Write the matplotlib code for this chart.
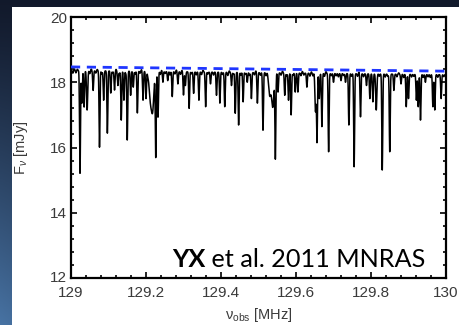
import numpy as np
import matplotlib
matplotlib.use("Agg")
import matplotlib.pyplot as plt
import matplotlib.transforms as mtransforms
from matplotlib.patches import Rectangle

plt.rcParams["mathtext.fontset"] = "custom"
plt.rcParams["mathtext.rm"] = "Liberation Sans"
plt.rcParams["mathtext.it"] = "Liberation Sans:italic"

# Observed frequency range [MHz] and flux range [mJy]
freq_range = [129.0, 130.0]
flux_range = [12.0, 20.0]
x_ticks = [129.0, 129.2, 129.4, 129.6, 129.8, 130.0]
x_tick_labels = ["129", "129.2", "129.4", "129.6", "129.8", "130"]
y_ticks = [12, 14, 16, 18, 20]

# Intrinsic continuum (dashed) at both band edges [mJy]
continuum_edges = [18.47, 18.34]
# Offset of the noisy observed baseline below the continuum [mJy]
baseline_offset = 0.11

# Absorption lines: centre [MHz], minimum flux [mJy], width sigma [MHz]
line_freq = [
    129.024, 129.029, 129.035, 129.043, 129.059, 129.076, 129.087, 129.097,
    129.106, 129.116, 129.125, 129.134, 129.141, 129.150, 129.159, 129.166,
    129.177, 129.192, 129.200, 129.212, 129.218, 129.226, 129.232, 129.245,
    129.258, 129.270, 129.285, 129.300, 129.305, 129.315, 129.327, 129.341,
    129.359, 129.372, 129.388, 129.397, 129.410, 129.428, 129.438, 129.447,
    129.459, 129.470, 129.481, 129.497, 129.512, 129.530, 129.538, 129.545,
    129.552, 129.570, 129.580, 129.587, 129.598, 129.605, 129.629, 129.652,
    129.656, 129.662, 129.669, 129.687, 129.700, 129.720, 129.732, 129.741,
    129.755, 129.772, 129.788, 129.797, 129.805, 129.814, 129.830, 129.850,
    129.861, 129.880, 129.894, 129.900, 129.921, 129.926, 129.932, 129.945,
    129.965, 129.970, 129.987,
]
line_fmin = [
    15.21, 17.36, 17.24, 17.15, 17.75, 16.01, 17.45, 16.44,
    17.67, 17.76, 17.90, 16.84, 17.45, 16.23, 17.60, 17.85,
    17.06, 17.45, 17.50, 17.45, 17.30, 15.72, 16.93, 18.00,
    18.05, 17.56, 17.95, 17.61, 17.90, 17.20, 17.66, 17.45,
    17.25, 17.95, 17.60, 17.36, 17.25, 17.90, 17.05, 16.69,
    17.40, 18.00, 17.50, 17.36, 16.53, 17.60, 17.25, 15.71,
    17.70, 17.60, 17.45, 17.00, 17.70, 17.70, 17.85, 17.10,
    16.18, 17.50, 16.64, 15.87, 18.00, 18.05, 18.00, 16.69,
    15.41, 16.94, 17.90, 17.50, 17.40, 17.15, 15.31, 15.87,
    17.75, 17.95, 17.25, 17.50, 17.45, 17.25, 16.84, 18.00,
    17.25, 17.15, 17.50,
]
line_sigma = [
    0.0012, 0.0012, 0.0012, 0.0015, 0.0012, 0.0012, 0.0012, 0.0012,
    0.0012, 0.0012, 0.0012, 0.0012, 0.0012, 0.0012, 0.0012, 0.0012,
    0.0012, 0.0012, 0.0012, 0.0035, 0.0030, 0.0012, 0.0012, 0.0012,
    0.0012, 0.0012, 0.0012, 0.0012, 0.0012, 0.0012, 0.0012, 0.0012,
    0.0012, 0.0012, 0.0012, 0.0012, 0.0012, 0.0012, 0.0012, 0.0012,
    0.0012, 0.0012, 0.0012, 0.0012, 0.0012, 0.0030, 0.0030, 0.0012,
    0.0012, 0.0012, 0.0012, 0.0012, 0.0012, 0.0012, 0.0012, 0.0015,
    0.0012, 0.0012, 0.0012, 0.0012, 0.0012, 0.0012, 0.0012, 0.0012,
    0.0012, 0.0012, 0.0012, 0.0012, 0.0012, 0.0015, 0.0012, 0.0012,
    0.0012, 0.0012, 0.0012, 0.0012, 0.0012, 0.0012, 0.0012, 0.0012,
    0.0012, 0.0012, 0.0012,
]

# Small ripples along the baseline: centre [MHz], amplitude [mJy]
# (positive = dip, negative = bump)
ripple_freq = [
    129.005, 129.009, 129.013, 129.017, 129.050, 129.054, 129.066, 129.070,
    129.082, 129.111, 129.120, 129.129, 129.146, 129.171, 129.184, 129.188,
    129.205, 129.238, 129.242, 129.251, 129.264, 129.277, 129.281, 129.292,
    129.296, 129.321, 129.334, 129.348, 129.352, 129.365, 129.380, 129.404,
    129.418, 129.422, 129.433, 129.453, 129.465, 129.476, 129.489, 129.493,
    129.505, 129.520, 129.524, 129.560, 129.564, 129.575, 129.592, 129.613,
    129.617, 129.621, 129.637, 129.641, 129.645, 129.676, 129.680, 129.694,
    129.707, 129.713, 129.727, 129.748, 129.764, 129.768, 129.780, 129.822,
    129.838, 129.845, 129.869, 129.874, 129.887, 129.908, 129.914, 129.939,
    129.952, 129.958, 129.978, 129.994,
]
ripple_amp = [
    0.08, -0.05, 0.07, -0.04, 0.09, -0.05, 0.07, -0.04,
    0.10, 0.06, -0.05, 0.08, 0.07, 0.09, 0.06, -0.05,
    0.08, 0.09, -0.04, 0.06, 0.10, 0.07, -0.05, 0.08,
    -0.04, 0.06, 0.09, 0.08, -0.05, 0.06, 0.09, 0.07,
    0.10, -0.04, 0.06, 0.08, 0.06, 0.09, 0.07, -0.05,
    0.08, 0.09, -0.04, 0.07, -0.05, 0.10, 0.07, 0.08,
    -0.05, 0.06, 0.09, -0.04, 0.08, 0.09, -0.05, 0.07,
    0.07, 0.10, 0.06, 0.08, 0.08, -0.05, 0.09, 0.07,
    0.09, 0.07, 0.08, -0.04, 0.10, 0.08, 0.06, 0.09,
    0.07, 0.09, 0.08, 0.06,
]

# ---- build the spectrum on a fine channel grid ----
freq = np.linspace(freq_range[0], freq_range[1], 6001)
cont = np.interp(freq, freq_range, continuum_edges)
flux = cont - baseline_offset
for f0, fmin, sig in zip(line_freq, line_fmin, line_sigma):
    depth = np.interp(f0, freq_range, continuum_edges) - baseline_offset - fmin
    flux = flux - depth * np.exp(-0.5 * ((freq - f0) / sig) ** 2)
for f0, a in zip(ripple_freq, ripple_amp):
    flux = flux - a * np.exp(-0.5 * ((freq - f0) / 0.0012) ** 2)

# ---- figure with slide-style backdrop ----
W, H = 459, 325
fig = plt.figure(figsize=(W / 100, H / 100), dpi=100)

bg = fig.add_axes([0, 0, 1, 1], zorder=-10)
bg.set_axis_off()
yy = np.linspace(0, 1, 200)[:, None]
xx = np.linspace(0, 1, 300)[None, :]
top = np.array([0.07, 0.10, 0.17])
bottom = np.array([0.28, 0.45, 0.64])
t = (yy ** 1.2) * np.clip(1.0 - xx * 1.5, 0.15, 1.0)
img = top[None, None, :] * (1 - t[..., None]) + bottom[None, None, :] * t[..., None]
bg.imshow(img, extent=[0, 1, 0, 1], aspect="auto", origin="upper")
bg.set_xlim(0, 1)
bg.set_ylim(0, 1)
bg.add_patch(Rectangle((12 / W, 0), 1, 1 - 7 / H, facecolor="white",
                       edgecolor="none"))

ax = fig.add_axes([71 / W, 1 - 278 / H, (446 - 71) / W, (278 - 17) / H])
ax.set_facecolor("white")

ax.plot(freq, flux, color="black", lw=1.1, zorder=2)
ax.plot(freq_range, continuum_edges, color="#1f36ff", lw=2.0,
        dashes=(3.3, 2.4), zorder=3)

ax.set_xlim(freq_range)
ax.set_ylim(flux_range)
ax.set_xticks(x_ticks)
ax.set_xticklabels(x_tick_labels)
ax.set_yticks(y_ticks)
ax.set_xticks(np.arange(129.0, 130.0001, 0.04), minor=True)
ax.set_yticks(np.arange(12.0, 20.0001, 0.4), minor=True)

ax.tick_params(which="both", direction="in", top=True, right=True,
               colors="black", labelcolor="#3a3a3a", labelsize=11,
               width=1.2)
ax.tick_params(which="major", length=4.5)
ax.tick_params(axis="x", which="major", pad=5.5)
ax.tick_params(axis="y", which="major", pad=3)
ax.tick_params(which="minor", length=2.5)
for lab in ax.get_xticklabels() + ax.get_yticklabels():
    lab.set_family("Liberation Sans")
# lift the bottom y label a little so it clears the first x label
lowest = ax.get_yticklabels()[0]
lowest.set_transform(lowest.get_transform() +
                     mtransforms.ScaledTranslation(0, 2 / 100, fig.dpi_scale_trans))
for s in ax.spines.values():
    s.set_linewidth(1.6)
    s.set_color("black")

ax.set_ylabel("F$_{\\nu}$ [mJy]", family="Liberation Sans", fontsize=10.5,
              color="#3a3a3a")
ax.yaxis.set_label_coords(-0.108, 0.5)
ax.set_xlabel("ν$_{\\rm obs}$ [MHz]", family="Liberation Sans", fontsize=10.5,
              color="#3a3a3a")
ax.xaxis.set_label_coords(0.5, -0.108)

t1 = ax.text(172 / W, 1 - 267 / H, "YX", transform=fig.transFigure,
             fontsize=18.2, fontweight="bold", family="Lato", color="black",
             va="baseline", ha="left", zorder=5)
ax.annotate(" et al. 2011 MNRAS", xy=(1, 0), xycoords=t1,
            fontsize=18.2, family="Lato", color="black",
            va="bottom", ha="left", zorder=5)

fig.savefig("out.png", dpi=100)
